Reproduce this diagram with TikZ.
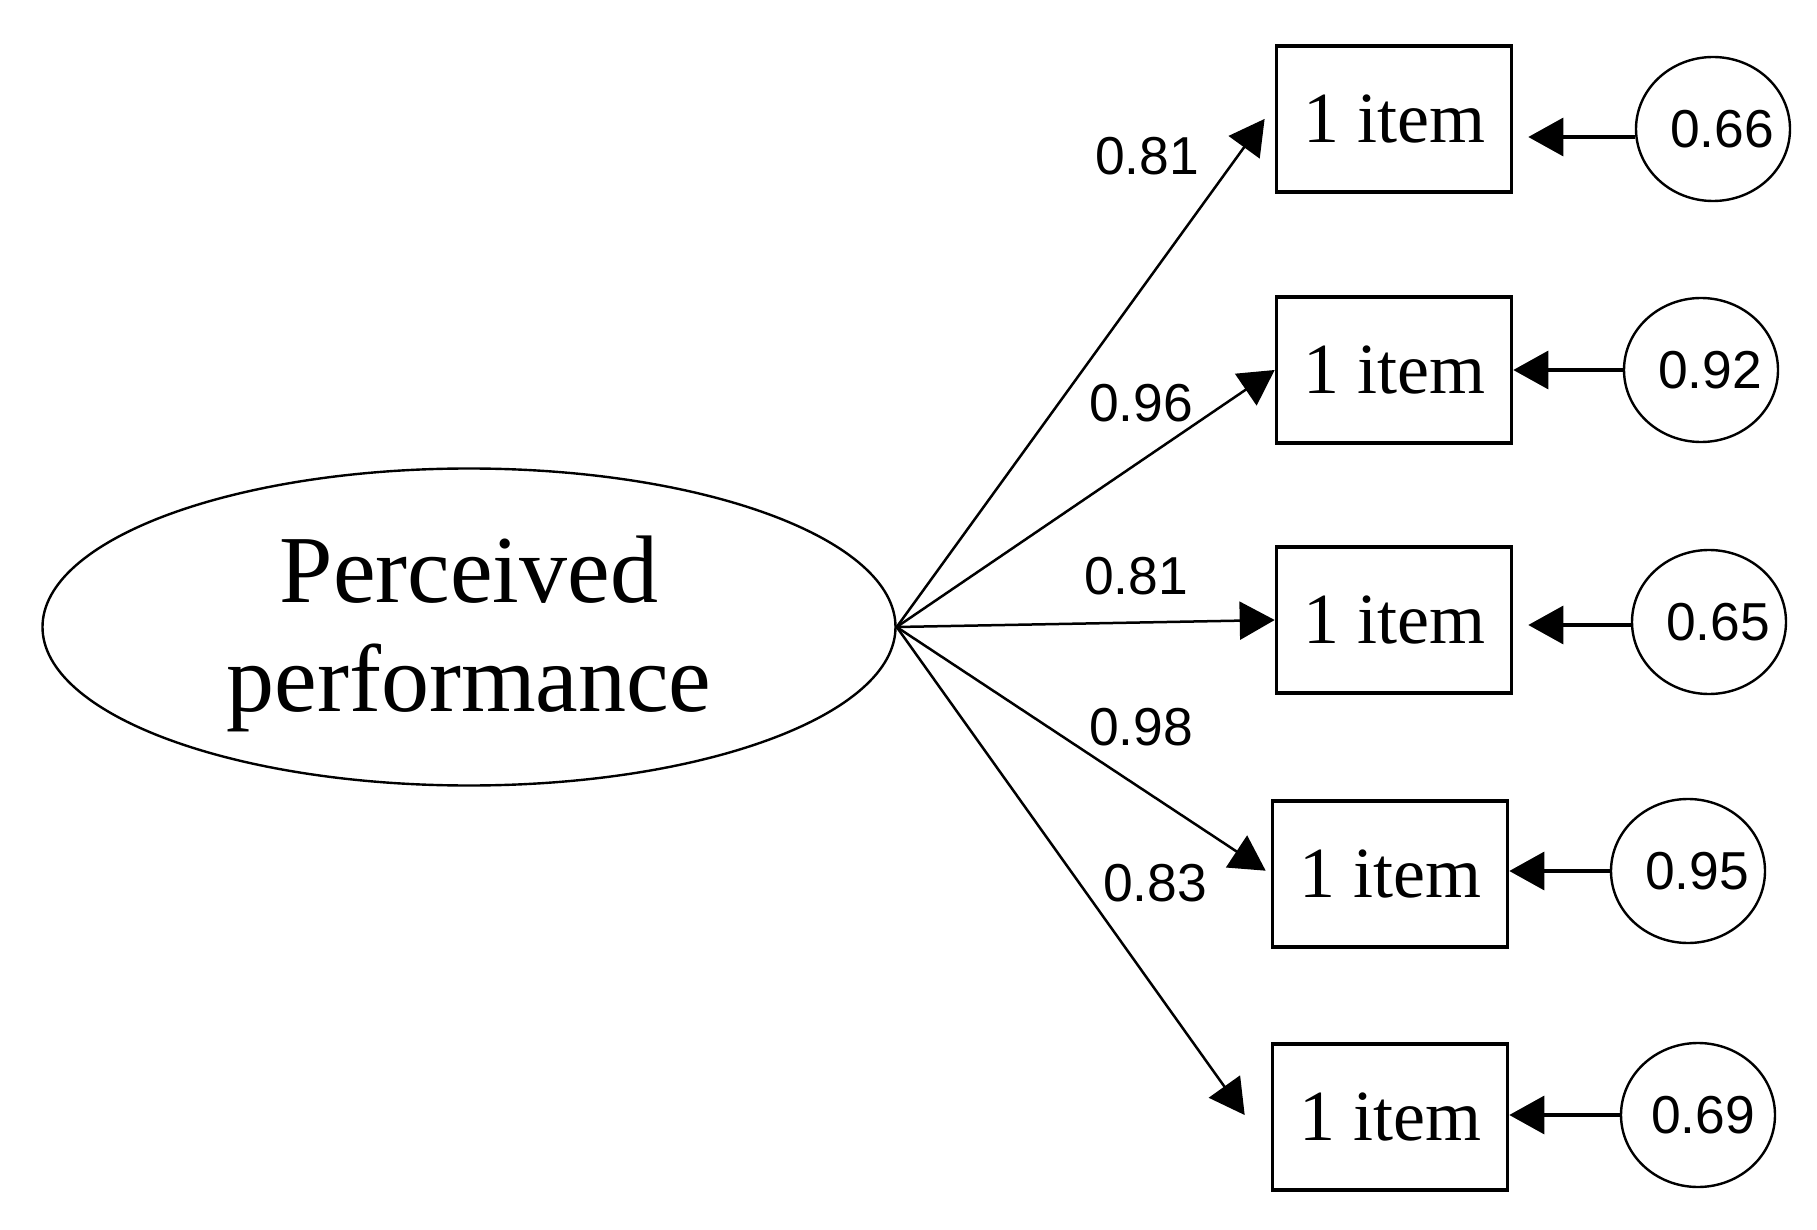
\documentclass[tikz,border=0pt]{standalone}
\usepackage{fontspec}
\setmainfont{Liberation Serif}
\newfontfamily\labfont{Liberation Sans}
\usetikzlibrary{arrows.meta,calc,shapes.geometric}
\newcommand{\shiftedtext}[2]{\makebox[0pt]{\hspace{#1}#2}}
\begin{document}
\begin{tikzpicture}[x=0.5pt,y=-0.5pt,
  lat/.style={draw,ellipse,line width=1.2pt,minimum width=426.5pt,minimum height=158.5pt,inner sep=0pt,align=center,font=\fontsize{48}{54.5}\selectfont},
  obs/.style={draw,rectangle,line width=1.8pt,minimum width=117.5pt,minimum height=73pt,inner sep=0pt,font=\fontsize{36}{40}\selectfont},
  err/.style={draw,ellipse,line width=1.2pt,minimum width=77pt,minimum height=72pt,inner sep=0pt,font=\labfont\fontsize{26.7}{30}\selectfont},
  load/.style={line width=1.25pt,-{Triangle[length=17.5pt,width=19pt]}},
  erra/.style={line width=1.6pt,-{Triangle[length=17.5pt,width=19pt]}},
  lab/.style={font=\labfont\fontsize{26.7}{30}\selectfont,inner sep=0pt}]
\path[fill=white] (0,0) rectangle (1817,1230);
\useasboundingbox (0,0) rectangle (1817,1230);

\node[lat] (pp) at (469,627) {\rule{0pt}{40pt}Perceived\\performance};

\node[obs] (b1) at (1394,119) {1 item};
\node[obs] (b2) at (1394,370) {1 item};
\node[obs] (b3) at (1394,620) {1 item};
\node[obs] (b4) at (1390,874) {1 item};
\node[obs] (b5) at (1390,1117) {1 item};

\node[err] (c1) at (1713,129) {\shiftedtext{9pt}{0.66}};
\node[err] (c2) at (1701,370) {\shiftedtext{9pt}{0.92}};
\node[err] (c3) at (1709,622) {\shiftedtext{9pt}{0.65}};
\node[err] (c4) at (1688,871) {\shiftedtext{9pt}{0.95}};
\node[err] (c5) at (1698,1115) {\shiftedtext{5pt}{0.69}};

\draw[load,shorten >=8.6pt] (pp.east) -- ($(b1.west)+(0,-14)$);
\draw[load] (pp.east) -- (b2.west);
\draw[load] (pp.east) -- (b3.west);
\draw[load,shorten >=3pt] (pp.east) -- (b4.west);
\draw[load,shorten >=22.4pt] (pp.east) -- ($(b5.west)+(0,34.5)$);

\node[lab] (l1) at (1147,156) {0.81};
\node[lab] (l2) at (1141,403) {0.96};
\node[lab] (l3) at (1136,576) {0.81};
\node[lab] (l4) at (1141,727) {0.98};
\node[lab] (l5) at (1155,883) {0.83};

\draw[erra,shorten >=7.5pt] ($(c1.west)+(0,8)$) -- ($(c1.west -| b1.east)+(0,8)$);
\draw[erra] (c2.west) -- (c2.west -| b2.east);
\draw[erra,shorten >=7.5pt] ($(c3.west)+(0,3)$) -- ($(c3.west -| b3.east)+(0,3)$);
\draw[erra] (c4.west) -- (c4.west -| b4.east);
\draw[erra] (c5.west) -- (c5.west -| b5.east);
\end{tikzpicture}
\end{document}
